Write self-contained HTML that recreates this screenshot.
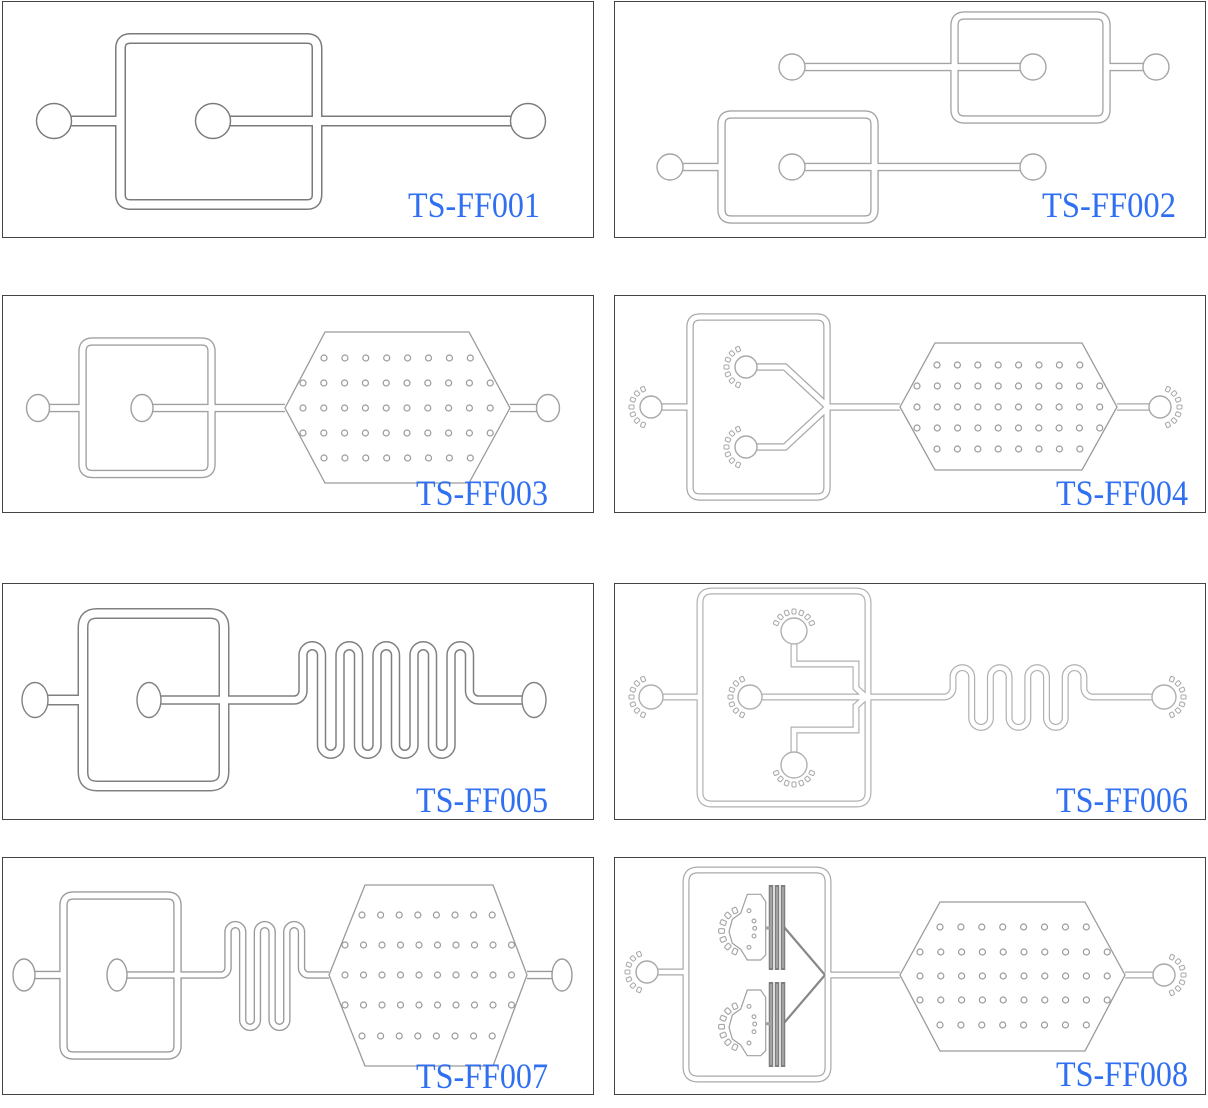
<!DOCTYPE html>
<html><head><meta charset="utf-8"><style>
html,body{margin:0;padding:0;background:#fff}
svg{display:block}
.lb{font-family:"Liberation Serif","Noto Serif CJK SC",serif;font-size:36px;fill:#2f6ff2}
.bx{fill:#fff;stroke:#444;stroke-width:1}
.hx{fill:none;stroke:#9a9a9a;stroke-width:1.3}
.cl{fill:#fff;stroke-width:1.4}
</style></head><body>
<svg width="1208" height="1108" viewBox="0 0 1208 1108" xmlns="http://www.w3.org/2000/svg">
<defs>
<g id="r8a"><circle cx="0" cy="0" r="3"/><circle cx="20.9" cy="0" r="3"/><circle cx="41.8" cy="0" r="3"/><circle cx="62.7" cy="0" r="3"/><circle cx="83.6" cy="0" r="3"/><circle cx="104.5" cy="0" r="3"/><circle cx="125.4" cy="0" r="3"/><circle cx="146.3" cy="0" r="3"/></g>
<g id="r10a"><circle cx="0" cy="0" r="3"/><circle cx="20.8" cy="0" r="3"/><circle cx="41.6" cy="0" r="3"/><circle cx="62.4" cy="0" r="3"/><circle cx="83.2" cy="0" r="3"/><circle cx="104" cy="0" r="3"/><circle cx="124.8" cy="0" r="3"/><circle cx="145.6" cy="0" r="3"/><circle cx="166.4" cy="0" r="3"/><circle cx="187.2" cy="0" r="3"/></g>
<g id="r8b"><circle cx="0" cy="0" r="3"/><circle cx="20.4" cy="0" r="3"/><circle cx="40.8" cy="0" r="3"/><circle cx="61.2" cy="0" r="3"/><circle cx="81.6" cy="0" r="3"/><circle cx="102" cy="0" r="3"/><circle cx="122.4" cy="0" r="3"/><circle cx="142.8" cy="0" r="3"/></g>
<g id="r10b"><circle cx="0" cy="0" r="3"/><circle cx="20.3" cy="0" r="3"/><circle cx="40.6" cy="0" r="3"/><circle cx="60.9" cy="0" r="3"/><circle cx="81.2" cy="0" r="3"/><circle cx="101.5" cy="0" r="3"/><circle cx="121.8" cy="0" r="3"/><circle cx="142.1" cy="0" r="3"/><circle cx="162.4" cy="0" r="3"/><circle cx="182.7" cy="0" r="3"/></g>
<g id="r8c"><circle cx="0" cy="0" r="3"/><circle cx="18.6" cy="0" r="3"/><circle cx="37.2" cy="0" r="3"/><circle cx="55.8" cy="0" r="3"/><circle cx="74.4" cy="0" r="3"/><circle cx="93" cy="0" r="3"/><circle cx="111.6" cy="0" r="3"/><circle cx="130.2" cy="0" r="3"/></g>
<g id="r10c"><circle cx="0" cy="0" r="3"/><circle cx="18.5" cy="0" r="3"/><circle cx="37" cy="0" r="3"/><circle cx="55.5" cy="0" r="3"/><circle cx="74" cy="0" r="3"/><circle cx="92.5" cy="0" r="3"/><circle cx="111" cy="0" r="3"/><circle cx="129.5" cy="0" r="3"/><circle cx="148" cy="0" r="3"/><circle cx="166.5" cy="0" r="3"/></g>
<g id="bd" fill="none" stroke="#a8a8a8" stroke-width="1">
<rect x="-22" y="-2" width="5" height="4" rx="1" transform="rotate(-66)"/>
<rect x="-22" y="-2" width="5" height="4" rx="1" transform="rotate(-44)"/>
<rect x="-22" y="-2" width="5" height="4" rx="1" transform="rotate(-22)"/>
<rect x="-22" y="-2" width="5" height="4" rx="1"/>
<rect x="-22" y="-2" width="5" height="4" rx="1" transform="rotate(22)"/>
<rect x="-22" y="-2" width="5" height="4" rx="1" transform="rotate(44)"/>
<rect x="-22" y="-2" width="5" height="4" rx="1" transform="rotate(66)"/>
</g>
<path id="p1a" fill="none" d="M130.5,38.5 H307 Q317,38.5 317,48.5 V194.5 Q317,204.5 307,204.5 H130.5 Q120.5,204.5 120.5,194.5 V48.5 Q120.5,38.5 130.5,38.5 Z M54,121 H120.5 M213,121 H528"/>
<path id="p2a" fill="none" d="M964.5,15.5 H1096.5 Q1106.5,15.5 1106.5,25.5 V109.5 Q1106.5,119.5 1096.5,119.5 H964.5 Q954.5,119.5 954.5,109.5 V25.5 Q954.5,15.5 964.5,15.5 Z M792,67 H1033 M1106.5,67 H1156 M731.5,114.5 H864.5 Q874.5,114.5 874.5,124.5 V209.5 Q874.5,219.5 864.5,219.5 H731.5 Q721.5,219.5 721.5,209.5 V124.5 Q721.5,114.5 731.5,114.5 Z M670,167 H721.5 M792,167 H1033"/>
<path id="p3a" fill="none" d="M92.5,341.5 H201.5 Q211.5,341.5 211.5,351.5 V464 Q211.5,474 201.5,474 H92.5 Q82.5,474 82.5,464 V351.5 Q82.5,341.5 92.5,341.5 Z M38,408 H82.5 M142,408 H285 M510,408 H548"/>
<path id="p4a" fill="none" d="M700,317 H817 Q827,317 827,327 V487 Q827,497 817,497 H700 Q690,497 690,487 V327 Q690,317 700,317 Z M651,407 H690 M746,367 H785 L828,407 L785,447 H746 M828,407 H900 M1117,407 H1160"/>
<path id="p5a" fill="none" d="M97,613.5 H210 Q224,613.5 224,627.5 V772 Q224,786 210,786 H97 Q83,786 83,772 V627.5 Q83,613.5 97,613.5 Z M35,700 H83"/>
<path id="p5b" fill="none" d="M149,700 H294 A9,9 0 0 0 303,691 V655 A9.25,9.25 0 0 1 321.5,655 V745 A9.25,9.25 0 0 0 340,745 V655 A9.25,9.25 0 0 1 358.5,655 V745 A9.25,9.25 0 0 0 377,745 V655 A9.25,9.25 0 0 1 395.5,655 V745 A9.25,9.25 0 0 0 414,745 V655 A9.25,9.25 0 0 1 432.5,655 V745 A9.25,9.25 0 0 0 451,745 V655 A9.25,9.25 0 0 1 469.5,655 V691 A9,9 0 0 0 478.5,700 H534"/>
<path id="p6a" fill="none" d="M712,591 H856 Q868,591 868,603 V792 Q868,804 856,804 H712 Q700,804 700,792 V603 Q700,591 712,591 Z M651,697 H700 M750,697 H866 M794,631 V664 H856 V688 L866,697 L856,706 V730 H794 V765 M866,697 H944 A9,9 0 0 0 953,688 V677 A9.35,9.35 0 0 1 971.7,677 V718 A9.35,9.35 0 0 0 990.4,718 V677 A9.35,9.35 0 0 1 1009.1,677 V718 A9.35,9.35 0 0 0 1027.8,718 V677 A9.35,9.35 0 0 1 1046.5,677 V718 A9.35,9.35 0 0 0 1065.2,718 V677 A9.35,9.35 0 0 1 1083.9,677 V688 A9,9 0 0 0 1092.9,697 H1164"/>
<path id="p7a" fill="none" d="M73.5,895.5 H167.5 Q177.5,895.5 177.5,905.5 V1045.5 Q177.5,1055.5 167.5,1055.5 H73.5 Q63.5,1055.5 63.5,1045.5 V905.5 Q63.5,895.5 73.5,895.5 Z M24,975 H63.5 M527,975 H562"/>
<path id="p7b" fill="none" d="M117,975 H221 A7,7 0 0 0 228,968 V932 A7.35,7.35 0 0 1 242.7,932 V1020 A7.35,7.35 0 0 0 257.4,1020 V932 A7.35,7.35 0 0 1 272.1,932 V1020 A7.35,7.35 0 0 0 286.8,1020 V932 A7.35,7.35 0 0 1 301.5,932 V968 A7,7 0 0 0 308.5,975 H329"/>
<path id="p8a" fill="none" d="M698,870 H816 Q828,870 828,882 V1067 Q828,1079 816,1079 H698 Q686,1079 686,1067 V882 Q686,870 698,870 Z M647,972 H686 M825,975 H900 M1125,975 H1164"/>
<g id="trap">
<polygon points="747.3,894.3 760.7,894.3 765.7,901.7 765.7,955 760.7,960 747.3,960 740.7,949.3 732.3,943.3 729,931.7 732.3,919.3 740.7,913.3" fill="#fff" stroke="#a0a0a0" stroke-width="1.2"/>
<line x1="765.7" y1="928" x2="770" y2="928" stroke="#a0a0a0" stroke-width="3"/>
<g fill="none" stroke="#a0a0a0" stroke-width="1.1"><circle cx="749" cy="910.7" r="1.9"/><circle cx="754" cy="921" r="1.9"/><circle cx="754.7" cy="928.3" r="1.9"/><circle cx="754" cy="936" r="1.9"/><circle cx="749" cy="947.3" r="1.9"/></g>
<use href="#bd" transform="translate(744,931) scale(1.15)"/>
</g>
</defs>

<rect class="bx" x="2.5" y="1.5" width="591" height="236"/>
<rect class="bx" x="614.5" y="1.5" width="591" height="236"/>
<rect class="bx" x="2.5" y="295.5" width="591" height="217"/>
<rect class="bx" x="614.5" y="295.5" width="591" height="217"/>
<rect class="bx" x="2.5" y="583.5" width="591" height="236"/>
<rect class="bx" x="614.5" y="583.5" width="591" height="236"/>
<rect class="bx" x="2.5" y="857.5" width="591" height="237"/>
<rect class="bx" x="614.5" y="857.5" width="591" height="237"/>

<!-- panel 1 -->
<use href="#p1a" stroke="#7a7a7a" stroke-width="11"/>
<use href="#p1a" stroke="#fff" stroke-width="8"/>
<g class="cl" stroke="#7a7a7a"><circle cx="54" cy="121" r="17.5"/><circle cx="213" cy="121" r="17.5"/><circle cx="528" cy="121" r="17.5"/></g>
<text class="lb" x="408" y="217" textLength="132" lengthAdjust="spacingAndGlyphs">TS-FF001</text>

<!-- panel 2 -->
<use href="#p2a" stroke="#a5a5a5" stroke-width="8.5"/>
<use href="#p2a" stroke="#fff" stroke-width="5.8"/>
<g class="cl" stroke="#a5a5a5"><circle cx="792" cy="67" r="13"/><circle cx="1033" cy="67" r="13"/><circle cx="1156" cy="67" r="13"/><circle cx="670" cy="167" r="13"/><circle cx="792" cy="167" r="13"/><circle cx="1033" cy="167" r="13"/></g>
<text class="lb" x="1042" y="217" textLength="134" lengthAdjust="spacingAndGlyphs">TS-FF002</text>

<!-- panel 3 -->
<use href="#p3a" stroke="#a0a0a0" stroke-width="8.5"/>
<use href="#p3a" stroke="#fff" stroke-width="5.8"/>
<polygon class="hx" points="285,408 325,332 469,332 510,408 469,483 325,483"/>
<g fill="none" stroke="#9a9a9a" stroke-width="1.2"><use href="#r8a" x="324" y="358"/><use href="#r10a" x="303" y="383"/><use href="#r10a" x="303" y="408"/><use href="#r10a" x="303" y="433"/><use href="#r8a" x="324" y="458"/></g>
<g class="cl" stroke="#a0a0a0"><ellipse cx="38" cy="408" rx="11.5" ry="13.5"/><ellipse cx="142" cy="408" rx="11" ry="13.5"/><ellipse cx="548" cy="408" rx="11.5" ry="13.5"/></g>
<text class="lb" x="416" y="505" textLength="132" lengthAdjust="spacingAndGlyphs">TS-FF003</text>

<!-- panel 4 -->
<use href="#p4a" stroke="#a8a8a8" stroke-width="7.5"/>
<use href="#p4a" stroke="#fff" stroke-width="5"/>
<polygon class="hx" points="900,407 935,343 1082,343 1117,407 1082,470 935,470"/>
<g fill="none" stroke="#9a9a9a" stroke-width="1.2"><use href="#r8b" x="937" y="365"/><use href="#r10b" x="917" y="386"/><use href="#r10b" x="917" y="407"/><use href="#r10b" x="917" y="428"/><use href="#r8b" x="937" y="449"/></g>
<g class="cl" stroke="#a8a8a8"><circle cx="651" cy="407" r="11"/><circle cx="746" cy="367" r="11"/><circle cx="746" cy="447" r="11"/><circle cx="1160" cy="407" r="11"/></g>
<use href="#bd" transform="translate(651,407)"/><use href="#bd" transform="translate(746,367)"/><use href="#bd" transform="translate(746,447)"/><use href="#bd" transform="translate(1160,407) rotate(180)"/>
<text class="lb" x="1056" y="505" textLength="132" lengthAdjust="spacingAndGlyphs">TS-FF004</text>

<!-- panel 5 -->
<use href="#p5a" stroke="#808080" stroke-width="11"/>
<use href="#p5b" stroke="#808080" stroke-width="9.5"/>
<use href="#p5a" stroke="#fff" stroke-width="8"/>
<use href="#p5b" stroke="#fff" stroke-width="6.5"/>
<g class="cl" stroke="#808080"><ellipse cx="35" cy="700" rx="13" ry="17.5"/><ellipse cx="149" cy="700" rx="12" ry="17.5"/><ellipse cx="534" cy="700" rx="12" ry="17.5"/></g>
<text class="lb" x="416" y="812" textLength="132" lengthAdjust="spacingAndGlyphs">TS-FF005</text>

<!-- panel 6 -->
<use href="#p6a" stroke="#b0b0b0" stroke-width="7"/>
<use href="#p6a" stroke="#fff" stroke-width="4.6"/>
<g class="cl" stroke="#b0b0b0"><circle cx="651" cy="697" r="12"/><circle cx="750" cy="697" r="12"/><circle cx="1164" cy="697" r="12"/><circle cx="794" cy="631" r="13"/><circle cx="794" cy="765" r="13"/></g>
<use href="#bd" transform="translate(651,697)"/><use href="#bd" transform="translate(750,697)"/><use href="#bd" transform="translate(1164,697) rotate(180)"/><use href="#bd" transform="translate(794,631) rotate(90)"/><use href="#bd" transform="translate(794,765) rotate(-90)"/>
<text class="lb" x="1056" y="812" textLength="132" lengthAdjust="spacingAndGlyphs">TS-FF006</text>

<!-- panel 7 -->
<use href="#p7a" stroke="#9a9a9a" stroke-width="8.5"/>
<use href="#p7b" stroke="#9a9a9a" stroke-width="7.5"/>
<use href="#p7a" stroke="#fff" stroke-width="5.8"/>
<use href="#p7b" stroke="#fff" stroke-width="4.8"/>
<polygon class="hx" points="329,975 365,885 493,885 527,975 493,1066 365,1066"/>
<g fill="none" stroke="#9a9a9a" stroke-width="1.2"><use href="#r8c" x="362" y="915"/><use href="#r10c" x="345" y="945"/><use href="#r10c" x="345" y="975"/><use href="#r10c" x="345" y="1005"/><use href="#r8c" x="362" y="1036"/></g>
<g class="cl" stroke="#9a9a9a"><ellipse cx="24" cy="975" rx="11" ry="16"/><ellipse cx="117" cy="975" rx="10" ry="16"/><ellipse cx="562" cy="975" rx="10" ry="16"/></g>
<text class="lb" x="416" y="1088" textLength="132" lengthAdjust="spacingAndGlyphs">TS-FF007</text>

<!-- panel 8 -->
<use href="#p8a" stroke="#a8a8a8" stroke-width="7"/>
<use href="#p8a" stroke="#fff" stroke-width="4.6"/>
<polygon class="hx" points="900,975 940,902 1085,902 1125,975 1085,1051 940,1051"/>
<g fill="none" stroke="#9a9a9a" stroke-width="1.2"><use href="#r8a" x="940" y="927"/><use href="#r10a" x="920" y="952"/><use href="#r10a" x="920" y="976"/><use href="#r10a" x="920" y="1000"/><use href="#r8a" x="940" y="1025"/></g>
<g stroke="#888" stroke-width="2.2" fill="none"><line x1="784" y1="927" x2="825" y2="975"/><line x1="784" y1="1023" x2="825" y2="975"/></g>
<g stroke="#7e7e7e" stroke-width="4.5"><line x1="771" y1="885" x2="771" y2="970"/><line x1="777" y1="885" x2="777" y2="970"/><line x1="783" y1="885" x2="783" y2="970"/><line x1="771" y1="982" x2="771" y2="1067"/><line x1="777" y1="982" x2="777" y2="1067"/><line x1="783" y1="982" x2="783" y2="1067"/></g>
<g stroke="#c8c8c8" stroke-width="1"><line x1="771" y1="887" x2="771" y2="968"/><line x1="777" y1="887" x2="777" y2="968"/><line x1="783" y1="887" x2="783" y2="968"/><line x1="771" y1="984" x2="771" y2="1065"/><line x1="777" y1="984" x2="777" y2="1065"/><line x1="783" y1="984" x2="783" y2="1065"/></g>
<use href="#trap"/>
<use href="#trap" transform="translate(0,95.7)"/>
<g class="cl" stroke="#a8a8a8"><circle cx="647" cy="972" r="11"/><circle cx="1164" cy="975" r="11"/></g>
<use href="#bd" transform="translate(647,972)"/><use href="#bd" transform="translate(1164,975) rotate(180)"/>
<text class="lb" x="1056" y="1086" textLength="132" lengthAdjust="spacingAndGlyphs">TS-FF008</text>
</svg>
</body></html>
